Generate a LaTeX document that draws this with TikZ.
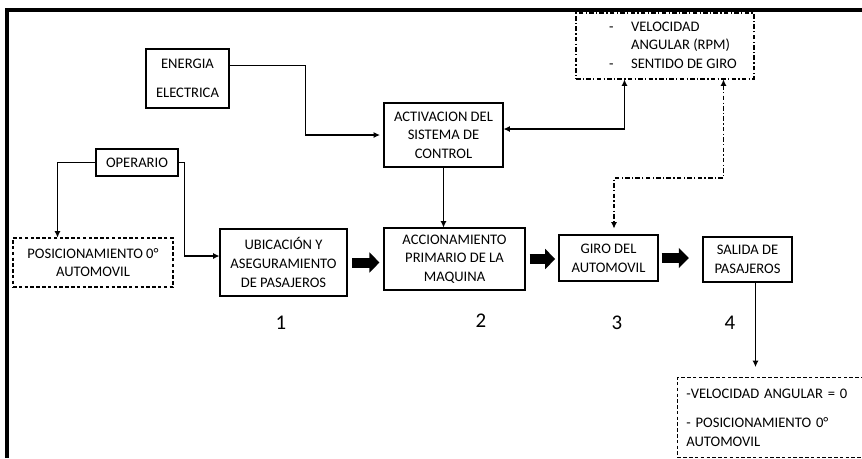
\documentclass[tikz,border=0pt]{standalone}
\usepackage{fontspec}
\setmainfont{Carlito}
\usepackage{tikz}
\usetikzlibrary{calc}
\usetikzlibrary{arrows.meta}
\usetikzlibrary{positioning}

\begin{document}
\begin{tikzpicture}[x=0.02cm,y=-0.02cm,>={Latex[length=3.6pt,width=3.4pt]}]
  % some styles
  \tikzset{
    caja/.style={
      rectangle,
      draw=black,
      line width=0.6pt,
      inner sep=0pt,
      align=center,
      font=\fontsize{8.3}{10.6}\selectfont
    }
  }
  \tikzset{cajaraya/.style={caja,dash pattern=on 2pt off 1.3pt}}
  \tikzset{cajapunto/.style={caja,dash pattern=on 2.6pt off 1.3pt on 0.7pt off 1.3pt}}
  \tikzset{conn/.style={draw=black,line width=0.6pt,->}}
  \tikzset{punto/.style={dash pattern=on 2.6pt off 1.3pt on 0.7pt off 1.3pt}}
  \tikzset{gruesa/.style={draw=black,line width=5.7pt,-{Triangle[length=5.7pt,width=11.3pt]}}}
  \tikzset{numero/.style={font=\fontsize{11.9}{14}\selectfont,inner sep=0pt}}

  \clip (0,0) rectangle (862,458);
  % marco
  \draw[line width=1.8pt] (7,458) -- (7,10) -- (862,10);

  % cajas
  \node[caja,minimum width=1.66cm,minimum height=1.18cm] (energia) at (187.5,78.5) {ENERGIA\\[5.8pt]ELECTRICA};
  \node[caja,minimum width=2.38cm,minimum height=1.28cm] (activ) at (443.5,135) {ACTIVACION DEL\\SISTEMA DE\\CONTROL};
  \node[caja,minimum width=1.64cm,minimum height=0.54cm] (operario) at (137,162.5) {OPERARIO};
  \node[cajaraya,minimum width=3.2cm,minimum height=0.98cm] (posic) at (93,262.5) {POSICIONAMIENTO 0°\\AUTOMOVIL};
  \node[caja,minimum width=2.54cm,minimum height=1.34cm] (ubic) at (283.5,262.5) {UBICACIÓN Y\\ASEGURAMIENTO\\DE PASAJEROS};
  \node[caja,minimum width=2.82cm,minimum height=1.24cm] (accion) at (454.5,259) {ACCIONAMIENTO\\PRIMARIO DE LA\\MAQUINA};
  \node[caja,minimum width=1.98cm,minimum height=0.92cm] (giro) at (608.5,258) {GIRO DEL\\AUTOMOVIL};
  \node[caja,minimum width=1.78cm,minimum height=0.9cm] (salida) at (747.5,259.5) {SALIDA DE\\PASAJEROS};
  \node[cajapunto,minimum width=3.56cm,minimum height=1.32cm] (veloc) at (665,46)
    {\hspace*{9pt}\begin{tabular}{@{}l@{\hspace{10pt}}l@{}}-&VELOCIDAD\\&ANGULAR (RPM)\\-&SENTIDO DE GIRO\end{tabular}};
  \node[cajaraya,anchor=north west,align=left,inner xsep=5pt,text width=3.85cm,minimum height=1.6cm] (final) at (677,377)
    {-VELOCIDAD ANGULAR = 0\\[6.2pt]- POSICIONAMIENTO 0°\\AUTOMOVIL};

  % numeros
  \foreach \n/\x/\y in {1/281/323,2/481/321,3/617/323,4/730/323}
    \node[numero] (num\n) at (\x,\y) {\n};

  % conectores
  \draw[conn,shorten >=2pt] ($(energia.east)+(0,-13)$) -- ++(76,0) |- (activ.west);
  \draw[conn] (activ.south) -- (activ.south |- accion.north);
  \draw[conn,<->] ($(activ.east)+(0,-6)$) -| ($(veloc.south west)+(49,0)$);
  \coordinate (giroarriba) at (614,178);
  \draw[conn,<->,punto,shorten >=3.4pt] ($(veloc.south west)+(148,0)$) |- (giroarriba) -- (giroarriba |- giro.north);
  \draw[conn] (operario.west) -| ($(posic.north west)+(45,0)$);
  \draw[conn] (operario.east) -- ++(6,0) |- ($(ubic.west)+(0,-6.5)$);
  \coordinate (salidaabajo) at ($(salida.south)+(8,0)$);
  \draw[conn,shorten >=5.7pt] (salidaabajo) -- (salidaabajo |- final.north);

  % flechas gruesas
  \foreach \a/\b/\s/\e in {ubic/accion/2.8pt/2.3pt,accion/giro/2.3pt/1.9pt,giro/salida/1.7pt/7.8pt}
    \draw[gruesa,shorten <=\s,shorten >=\e] (\a.east) -- (\a.east -| \b.west);
\end{tikzpicture}
\end{document}
